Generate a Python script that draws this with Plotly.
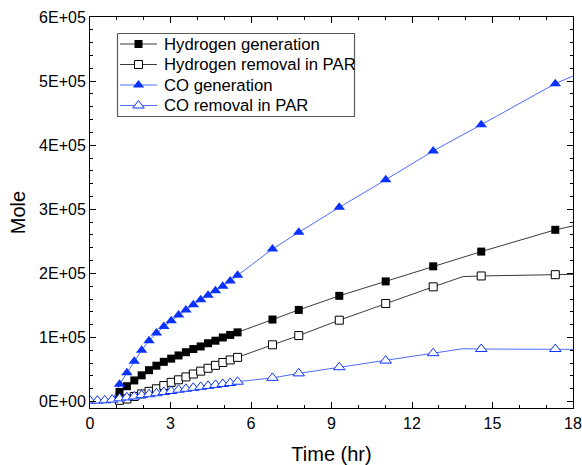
import plotly.graph_objects as go

# ---- data ----
time_hr = [0.0, 0.275, 0.55, 0.825, 1.1, 1.375, 1.65, 1.925, 2.2, 2.475, 2.75,
           3.025, 3.3, 3.575, 3.85, 4.125, 4.4, 4.675, 4.95, 5.225, 5.5,
           6.8, 7.78, 9.29, 11.02, 12.79, 14.58, 17.34]

h2_generation = [0, 0, 0, 0, 15000, 24000, 33000, 41000, 49000, 56000, 62000,
                 67000, 72000, 77000, 82000, 86000, 91000, 95000, 100000, 104000, 108000,
                 128000, 143000, 165000, 187500, 211000, 234000, 268000]
h2_removal = [0, 0, 0, 0, 2000, 4000, 8000, 12000, 16000, 20000, 25000,
              30000, 34000, 38500, 43000, 47500, 52000, 56500, 61000, 65000, 69000,
              88600, 103000, 127000, 153000, 179000, 196000, 198000]
co_generation = [0, 0, 0, 0, 27000, 45000, 63000, 80000, 95000, 107000, 117000,
                 126000, 135000, 143000, 151000, 159000, 166000, 173000, 180000, 188000, 197000,
                 238000, 264000, 303000, 346000, 391000, 432000, 496000]
co_removal = [1500, 1500, 2000, 3000, 5000, 6500, 8000, 10000, 11500, 13000, 15000,
              16500, 18500, 20000, 21500, 23000, 24500, 26000, 27500, 29000, 31000,
              37000, 44000, 53600, 64000, 75500, 82000, 82000]

# first index that carries a symbol, for each series
first_marker = {"h2g": 4, "h2r": 4, "cog": 4, "cor": 0}

# extra line-only points (PAR saturation kink and the end of the run)
t_kink = 13.9
h2_removal_kink = 195000
co_removal_kink = 82500
t_end = 18.0
h2_generation_end = 274000
h2_removal_end = 198500
co_generation_end = 508000
co_removal_end = 81500

names = ["Hydrogen generation", "Hydrogen removal in PAR", "CO generation", "CO removal in PAR"]
y_tick_vals = [0, 100000, 200000, 300000, 400000, 500000, 600000]
y_tick_text = ["0E+00", "1E+05", "2E+05", "3E+05", "4E+05", "5E+05", "6E+05"]
x_tick_vals = [0, 3, 6, 9, 12, 15, 18]

BLUE = "#0A32FF"
BLUE_LINE = "#4D6BFF"
GREY_LINE = "#3a3a3a"

def add_kink(t, v, tk, vk):
    pts = sorted(list(zip(t, v)) + [(tk, vk)])
    return [p[0] for p in pts], [p[1] for p in pts]

series = []
series.append((time_hr + [t_end], h2_generation + [h2_generation_end],
               time_hr[first_marker["h2g"]:], h2_generation[first_marker["h2g"]:],
               GREY_LINE, dict(symbol="square", size=8, color="black", line=dict(width=0)), names[0]))
lx, ly = add_kink(time_hr, h2_removal, t_kink, h2_removal_kink)
series.append((lx + [t_end], ly + [h2_removal_end],
               time_hr[first_marker["h2r"]:], h2_removal[first_marker["h2r"]:],
               GREY_LINE, dict(symbol="square", size=8, color="white", line=dict(width=1, color="black")), names[1]))
series.append((time_hr + [t_end], co_generation + [co_generation_end],
               time_hr[first_marker["cog"]:], co_generation[first_marker["cog"]:],
               BLUE_LINE, dict(symbol="triangle-up", size=10, color=BLUE, line=dict(width=0)), names[2]))
lx, ly = add_kink(time_hr, co_removal, t_kink, co_removal_kink)
series.append((lx + [t_end], ly + [co_removal_end],
               time_hr[first_marker["cor"]:], co_removal[first_marker["cor"]:],
               BLUE_LINE, dict(symbol="triangle-up", size=10, color="white", line=dict(width=1, color=BLUE)), names[3]))

fig = go.Figure()
for lxx, lyy, mx, my, lc, mk, nm in series:
    fig.add_trace(go.Scatter(x=lxx, y=lyy, mode="lines", line=dict(color=lc, width=1),
                             showlegend=False, hoverinfo="skip"))
for lxx, lyy, mx, my, lc, mk, nm in series:
    fig.add_trace(go.Scatter(x=mx, y=my, mode="markers", marker=mk, showlegend=False, name=nm))

# ---- legend drawn on a pixel-space overlay axis ----
PX_L, PX_R, PX_T, PX_B = 90, 573, 17, 408
leg_left, leg_top, leg_right, leg_bottom = 117.5, 33.5, 354.5, 116.5
leg_rows = [44, 64.5, 85, 105.5]
leg_line_x = (120, 157)
leg_text_x = 162

# legend frame
fig.add_trace(go.Scatter(x=[leg_left, leg_right, leg_right, leg_left, leg_left],
                         y=[leg_top, leg_top, leg_bottom, leg_bottom, leg_top],
                         xaxis="x2", yaxis="y2", mode="lines",
                         line=dict(color="#5a5a5a", width=1.2), showlegend=False, hoverinfo="skip",
                         cliponaxis=False))

for (lxx, lyy, mx, my, lc, mk, nm), ry in zip(series, leg_rows):
    fig.add_trace(go.Scatter(x=[leg_line_x[0], leg_line_x[1]], y=[ry, ry], xaxis="x2", yaxis="y2",
                             mode="lines", line=dict(color=lc, width=1),
                             showlegend=False, hoverinfo="skip"))
    fig.add_trace(go.Scatter(x=[(leg_line_x[0] + leg_line_x[1]) / 2], y=[ry], xaxis="x2", yaxis="y2",
                             mode="markers", marker=mk, showlegend=False, hoverinfo="skip"))
    fig.add_annotation(xref="x2", yref="y2", x=leg_text_x, y=ry, text=nm, showarrow=False,
                       xanchor="left", yanchor="middle", font=dict(size=16.7, color="black"))

font_family = "Liberation Sans, Arial, sans-serif"
axis_common = dict(showline=True, linecolor="black", linewidth=1, mirror="allticks",
                   ticks="inside", ticklen=6, tickcolor="black", showgrid=False, zeroline=False,
                   automargin=False,
                   tickfont=dict(size=16, color="black", family=font_family))

fig.update_layout(
    width=582, height=465,
    margin=dict(l=PX_L, r=582 - PX_R, t=PX_T, b=465 - PX_B),
    paper_bgcolor="white", plot_bgcolor="white",
    font=dict(family=font_family, color="black"),
    xaxis=dict(range=[0, 18], tickmode="array", tickvals=x_tick_vals, ticklabelstandoff=1,
               minor=dict(tickmode="linear", tick0=0, dtick=1, ticks="inside", ticklen=3, tickcolor="black"),
               title=dict(text="Time (hr)", font=dict(size=20), standoff=17), **axis_common),
    yaxis=dict(range=[-10000, 600000], tickmode="array", tickvals=y_tick_vals, ticktext=y_tick_text,
               minor=dict(tickmode="linear", tick0=0, dtick=20000, ticks="inside", ticklen=3, tickcolor="black"),
               title=dict(text="Mole", font=dict(size=20), standoff=8), **axis_common),
    xaxis2=dict(overlaying="x", range=[PX_L, PX_R], visible=False, fixedrange=True),
    yaxis2=dict(overlaying="y", range=[PX_B, PX_T], visible=False, fixedrange=True),
    showlegend=False,
)

fig.write_html("out.html")
